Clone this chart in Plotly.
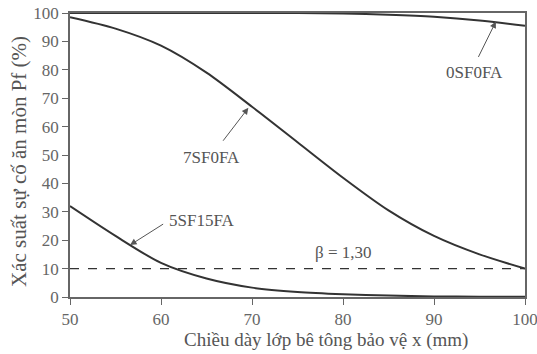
import plotly.graph_objects as go

# Concrete cover thickness x (mm)
cover_mm = [50, 55, 60, 65, 70, 75, 80, 85, 90, 95, 100]

# Probability of corrosion failure Pf (%) per mix
pf_0sf0fa = [100, 100, 100, 100, 100, 100, 99.8, 99.4, 98.7, 97.4, 95.5]
pf_7sf0fa = [98.5, 94.5, 88.5, 79, 67, 54.5, 42, 30.5, 21.5, 15, 10]
pf_5sf15fa = [32, 21.5, 12, 6.5, 3.3, 1.8, 1.0, 0.5, 0.2, 0.1, 0.05]

# Target reliability level beta = 1.30 -> Pf = 10 %
beta_pf = 10

xticks = [50, 60, 70, 80, 90, 100]
yticks = [0, 10, 20, 30, 40, 50, 60, 70, 80, 90, 100]

font_family = "Liberation Serif, Times New Roman, serif"
text_col = "#555555"
line_col = "#333333"

fig = go.Figure()
for ys in (pf_0sf0fa, pf_7sf0fa, pf_5sf15fa):
    fig.add_trace(go.Scatter(
        x=cover_mm, y=ys, mode="lines",
        line=dict(color=line_col, width=2, shape="spline", smoothing=0.8),
        showlegend=False, hoverinfo="skip"))

fig.add_trace(go.Scatter(
    x=[cover_mm[0], cover_mm[-1]], y=[beta_pf, beta_pf], mode="lines",
    line=dict(color=line_col, width=1.3, dash="dash"),
    showlegend=False, hoverinfo="skip"))

ann_font = dict(family=font_family, size=17, color=text_col)
arrow = dict(showarrow=True, arrowhead=2, arrowsize=1.3, arrowwidth=1,
             arrowcolor="#555555", axref="x", ayref="y", font=ann_font)

fig.add_annotation(x=96.8, y=97.0, ax=94.8, ay=84.0, text="", **arrow)
fig.add_annotation(x=94.4, y=79.2, text="0SF0FA", showarrow=False, font=ann_font)

fig.add_annotation(x=69.6, y=66.6, ax=66.7, ay=54.5, text="", **arrow)
fig.add_annotation(x=65.6, y=49.2, text="7SF0FA", showarrow=False, font=ann_font)

fig.add_annotation(x=56.6, y=18.3, ax=60.4, ay=26.0, text="", **arrow)
fig.add_annotation(x=64.5, y=26.8, text="5SF15FA", showarrow=False, font=ann_font)

fig.add_annotation(x=80.0, y=15.5, text="β = 1,30", showarrow=False, font=ann_font)

# Axis titles, placed in paper coordinates (plot area: 455 x 284 px)
fig.add_annotation(text="Chiều dày lớp bê tông bảo vệ x (mm)",
                   font=dict(family=font_family, size=19, color=text_col),
                   xref="paper", yref="paper", x=(326 - 70) / 455, y=-(340 - 297) / 284,
                   xanchor="center", yanchor="middle", showarrow=False)
fig.add_annotation(text="Xác suất sự cố ăn mòn Pf (%)",
                   font=dict(family=font_family, size=21, color=text_col),
                   xref="paper", yref="paper", x=-(70 - 19) / 455, y=1 - (162 - 13) / 284,
                   xanchor="center", yanchor="middle", textangle=-90, showarrow=False)

axis_common = dict(
    showgrid=False, zeroline=False, showline=True, linecolor="#666666",
    linewidth=1.5, mirror=True, ticks="outside", ticklen=6, tickwidth=1,
    tickcolor="#666666", automargin=False, ticklabeloverflow="allow",
    tickfont=dict(family=font_family, size=17, color="#666666"))

fig.update_xaxes(range=[50, 100], tickvals=xticks, **axis_common)
fig.update_yaxes(range=[0, 100], tickvals=yticks, **axis_common)

fig.update_layout(
    width=537, height=354,
    margin=dict(l=70, r=12, t=13, b=57),
    plot_bgcolor="white", paper_bgcolor="white",
)

fig.write_html("out.html")
